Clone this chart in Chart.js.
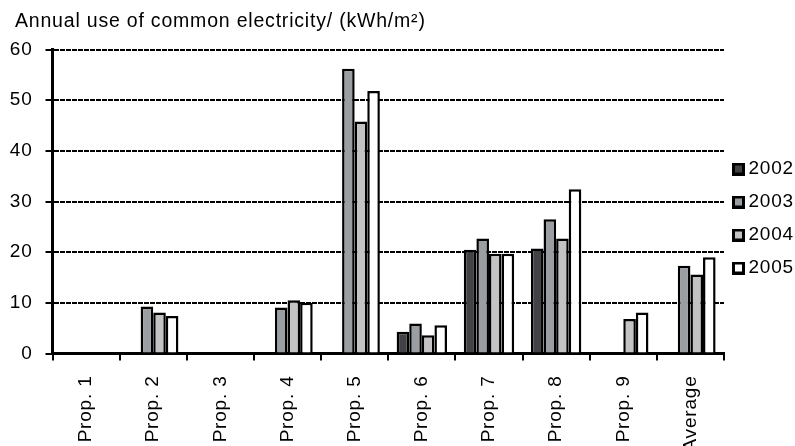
<!DOCTYPE html>
<html>
<head>
<meta charset="utf-8">
<title>Annual use of common electricity</title>
<script src="https://cdn.jsdelivr.net/npm/chart.js@4.4.1/dist/chart.umd.min.js"></script>
<style>
  html, body { margin: 0; padding: 0; background: #fff; overflow: hidden; }
  #wrap { width: 795px; height: 446px; position: relative; }
</style>
</head>
<body>
<div id="wrap"><canvas id="chart" width="795" height="446"></canvas></div>
<script>
// Properties and yearly common-electricity use (kWh/m² per year)
const categories = ['Prop. 1', 'Prop. 2', 'Prop. 3', 'Prop. 4', 'Prop. 5',
                    'Prop. 6', 'Prop. 7', 'Prop. 8', 'Prop. 9', 'Average'];
const years = ['2002', '2003', '2004', '2005'];
const use2002 = [null, null, null, null, null, 4.3, 20.5, 20.7, null, null];
const use2003 = [null, 9.3, null, 9.1, 56.2, 5.9, 22.7, 26.5, null, 17.3];
const use2004 = [null, 8.1, null, 10.5, 45.8, 3.6, 19.7, 22.7, 6.8, 15.6];
const use2005 = [null, 7.4, null, 10.0, 51.8, 5.6, 19.7, 32.4, 8.1, 19.0];
const yTicks = [0, 10, 20, 30, 40, 50, 60];
const titleText = 'Annual use of common electricity/ (kWh/m²)';

const fills = ['#414146', '#9a9ea2', '#c3c3c5', '#ffffff'];
const FONT = '"Liberation Sans", Arial, Helvetica, sans-serif';

// small bordered squares used as legend markers
function swatch(fill) {
  const c = document.createElement('canvas');
  c.width = 13; c.height = 13;
  const g = c.getContext('2d');
  g.fillStyle = '#000';
  g.fillRect(0, 0, 13, 13);
  g.fillStyle = fill;
  g.fillRect(3, 3, 7, 7);
  return c;
}
const swatches = fills.map(swatch);

const seriesValues = [use2002, use2003, use2004, use2005];
const datasets = years.map((y, i) => ({
  label: y,
  data: seriesValues[i],
  backgroundColor: fills[i],
  borderColor: '#000',
  borderWidth: 2.5,
  borderSkipped: 'start',
  categoryPercentage: 0.75,
  barPercentage: 1.0
}));

// slightly open text tracking, re-applied after every canvas reset
const spacing = {
  id: 'spacing',
  beforeInit(chart) { chart.ctx.letterSpacing = '0.8px'; },
  beforeUpdate(chart) { chart.ctx.letterSpacing = '0.8px'; },
  beforeRender(chart) { chart.ctx.letterSpacing = '0.8px'; }
};

// indent the title from the left edge and lift the legend column a little
const placement = {
  id: 'placement',
  afterLayout(chart) {
    if (chart.titleBlock) chart.titleBlock.left = 15;
    if (chart.legend) {
      chart.legend.top -= 4.5;
      chart.legend.bottom -= 4.5;
    }
  }
};

Chart.defaults.color = '#000';
Chart.defaults.font.family = FONT;
Chart.defaults.font.size = 19;

new Chart(document.getElementById('chart'), {
  type: 'bar',
  data: { labels: categories, datasets },
  plugins: [spacing, placement],
  options: {
    responsive: false,
    animation: false,
    devicePixelRatio: 1,
    layout: { padding: 0 },
    plugins: {
      title: {
        display: true,
        text: titleText,
        align: 'start',
        color: '#000',
        font: { size: 19.5, weight: 'normal', family: FONT },
        padding: { top: 10.4, bottom: 15.7 }
      },
      legend: {
        position: 'right',
        maxWidth: 71,
        labels: {
          usePointStyle: true,
          boxWidth: 1,
          boxHeight: 13,
          padding: 14,
          color: '#000',
          font: { size: 19, family: FONT },
          generateLabels(chart) {
            return Chart.defaults.plugins.legend.labels.generateLabels(chart)
              .map(it => ({ ...it, pointStyle: swatches[it.datasetIndex] }));
          }
        }
      },
      tooltip: { enabled: false }
    },
    scales: {
      x: {
        afterFit(scale) { scale.height = 92.5; },
        grid: {
          display: true,
          drawOnChartArea: false,
          offset: true,
          color: '#000',
          lineWidth: 2,
          tickLength: 7
        },
        border: { display: true, color: '#000', width: 3 },
        ticks: {
          autoSkip: false,
          minRotation: 90,
          maxRotation: 90,
          padding: 15,
          color: '#000',
          font: { size: 19, family: FONT }
        }
      },
      y: {
        min: 0,
        max: 60,
        afterFit(scale) { scale.width = 52.5; },
        afterBuildTicks(scale) { scale.ticks = yTicks.map(v => ({ value: v })); },
        grid: {
          color: '#000',
          lineWidth: 2,
          tickLength: 7
        },
        border: { display: true, color: '#000', width: 3, dash: [5, 1] },
        ticks: {
          padding: 13,
          color: '#000',
          font: { size: 19, family: FONT }
        }
      }
    }
  }
});
</script>
</body>
</html>
